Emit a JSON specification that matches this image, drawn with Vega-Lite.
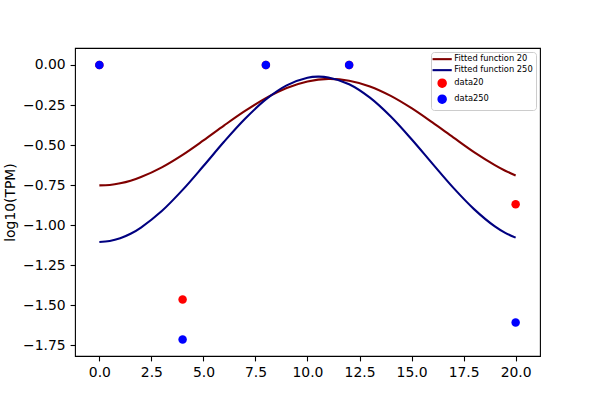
{
  "$schema": "https://vega.github.io/schema/vega-lite/v6.json",
  "width": 465,
  "height": 308,
  "autosize": {"type": "none"},
  "padding": {"left": 75, "top": 48, "right": 60, "bottom": 44},
  "background": "white",
  "config": {
    "view": {"stroke": "black", "strokeWidth": 1.1},
    "font": "DejaVu Sans",
    "axis": {
      "grid": false,
      "domain": false,
      "tickColor": "black",
      "tickSize": 4.9,
      "tickWidth": 1.1,
      "labelColor": "black",
      "labelFont": "DejaVu Sans",
      "labelFontSize": 13.9,
      "labelPadding": 4.9,
      "titleFont": "DejaVu Sans",
      "titleFontSize": 13.9,
      "titleFontWeight": "normal",
      "titleColor": "black"
    }
  },
  "datasets": {
    "curves": [
      {"x": 0, "y": -0.752, "series": "Fitted function 20"},
      {"x": 0.5, "y": -0.749, "series": "Fitted function 20"},
      {"x": 1, "y": -0.739, "series": "Fitted function 20"},
      {"x": 1.5, "y": -0.723, "series": "Fitted function 20"},
      {"x": 2, "y": -0.700, "series": "Fitted function 20"},
      {"x": 3, "y": -0.639, "series": "Fitted function 20"},
      {"x": 4, "y": -0.561, "series": "Fitted function 20"},
      {"x": 5, "y": -0.471, "series": "Fitted function 20"},
      {"x": 6, "y": -0.377, "series": "Fitted function 20"},
      {"x": 7, "y": -0.287, "series": "Fitted function 20"},
      {"x": 8, "y": -0.207, "series": "Fitted function 20"},
      {"x": 9, "y": -0.144, "series": "Fitted function 20"},
      {"x": 10, "y": -0.103, "series": "Fitted function 20"},
      {"x": 11, "y": -0.087, "series": "Fitted function 20"},
      {"x": 12, "y": -0.098, "series": "Fitted function 20"},
      {"x": 13, "y": -0.134, "series": "Fitted function 20"},
      {"x": 14, "y": -0.193, "series": "Fitted function 20"},
      {"x": 15, "y": -0.270, "series": "Fitted function 20"},
      {"x": 16, "y": -0.359, "series": "Fitted function 20"},
      {"x": 17, "y": -0.452, "series": "Fitted function 20"},
      {"x": 18, "y": -0.544, "series": "Fitted function 20"},
      {"x": 19, "y": -0.625, "series": "Fitted function 20"},
      {"x": 19.5, "y": -0.660, "series": "Fitted function 20"},
      {"x": 20, "y": -0.690, "series": "Fitted function 20"},
      {"x": 0, "y": -1.105, "series": "Fitted function 250"},
      {"x": 0.5, "y": -1.099, "series": "Fitted function 250"},
      {"x": 1, "y": -1.082, "series": "Fitted function 250"},
      {"x": 1.5, "y": -1.054, "series": "Fitted function 250"},
      {"x": 2, "y": -1.015, "series": "Fitted function 250"},
      {"x": 3, "y": -0.912, "series": "Fitted function 250"},
      {"x": 4, "y": -0.780, "series": "Fitted function 250"},
      {"x": 5, "y": -0.631, "series": "Fitted function 250"},
      {"x": 6, "y": -0.478, "series": "Fitted function 250"},
      {"x": 7, "y": -0.336, "series": "Fitted function 250"},
      {"x": 8, "y": -0.215, "series": "Fitted function 250"},
      {"x": 9, "y": -0.127, "series": "Fitted function 250"},
      {"x": 10, "y": -0.080, "series": "Fitted function 250"},
      {"x": 10.5, "y": -0.073, "series": "Fitted function 250"},
      {"x": 11, "y": -0.078, "series": "Fitted function 250"},
      {"x": 12, "y": -0.120, "series": "Fitted function 250"},
      {"x": 13, "y": -0.204, "series": "Fitted function 250"},
      {"x": 14, "y": -0.322, "series": "Fitted function 250"},
      {"x": 15, "y": -0.464, "series": "Fitted function 250"},
      {"x": 16, "y": -0.616, "series": "Fitted function 250"},
      {"x": 17, "y": -0.766, "series": "Fitted function 250"},
      {"x": 18, "y": -0.900, "series": "Fitted function 250"},
      {"x": 19, "y": -1.008, "series": "Fitted function 250"},
      {"x": 19.5, "y": -1.048, "series": "Fitted function 250"},
      {"x": 20, "y": -1.078, "series": "Fitted function 250"}
    ],
    "points": [
      {"x": 0, "y": 0, "series": "data20"},
      {"x": 4, "y": -1.464, "series": "data20"},
      {"x": 8, "y": 0, "series": "data20"},
      {"x": 12, "y": 0, "series": "data20"},
      {"x": 20, "y": -0.869, "series": "data20"},
      {"x": 0, "y": 0, "series": "data250"},
      {"x": 4, "y": -1.714, "series": "data250"},
      {"x": 8, "y": 0, "series": "data250"},
      {"x": 12, "y": 0, "series": "data250"},
      {"x": 20, "y": -1.608, "series": "data250"}
    ]
  },
  "encoding": {
    "x": {
      "field": "x",
      "type": "quantitative",
      "title": null,
      "scale": {"domain": [-1.17, 21.17], "nice": false, "zero": false},
      "axis": {"values": [0, 2.5, 5, 7.5, 10, 12.5, 15, 17.5, 20], "format": ".1f"}
    },
    "y": {
      "field": "y",
      "type": "quantitative",
      "title": "log10(TPM)",
      "scale": {"domain": [-1.817, 0.106], "nice": false, "zero": false},
      "axis": {"values": [-1.75, -1.5, -1.25, -1, -0.75, -0.5, -0.25, 0], "format": ".2f", "titlePadding": 5}
    },
    "color": {
      "field": "series",
      "type": "nominal",
      "scale": {
        "domain": ["Fitted function 20", "Fitted function 250", "data20", "data250"],
        "range": ["#800000", "#000080", "#ff0000", "#0000ff"]
      },
      "legend": {
        "title": null,
        "orient": "top-right",
        "offset": 4,
        "padding": 3,
        "fillColor": "white",
        "strokeColor": "#cccccc",
        "cornerRadius": 3,
        "labelFont": "DejaVu Sans",
        "labelFontSize": 8.3,
        "labelColor": "black",
        "symbolSize": 64,
        "symbolOffset": 4,
        "labelOffset": 8,
        "rowPadding": 1,
        "encode": {
          "symbols": {
            "update": {
              "shape": {"signal": "test(/^data/, datum.value) ? 'circle' : 'M-2.4,0H2.4'"},
              "size": {"value": 64},
              "fill": {"signal": "test(/^data/, datum.value) ? scale('color', datum.value) : 'transparent'"},
              "stroke": {"signal": "scale('color', datum.value)"},
              "strokeWidth": {"signal": "test(/^data/, datum.value) ? 1.5 : 2.1"},
              "opacity": {"value": 1}
            }
          }
        }
      }
    }
  },
  "layer": [
    {
      "data": {"name": "curves"},
      "mark": {"type": "line", "strokeWidth": 2.1, "interpolate": "catmull-rom"}
    },
    {
      "data": {"name": "points"},
      "mark": {"type": "point", "filled": true, "opacity": 1, "size": 72, "shape": "circle"}
    }
  ]
}
